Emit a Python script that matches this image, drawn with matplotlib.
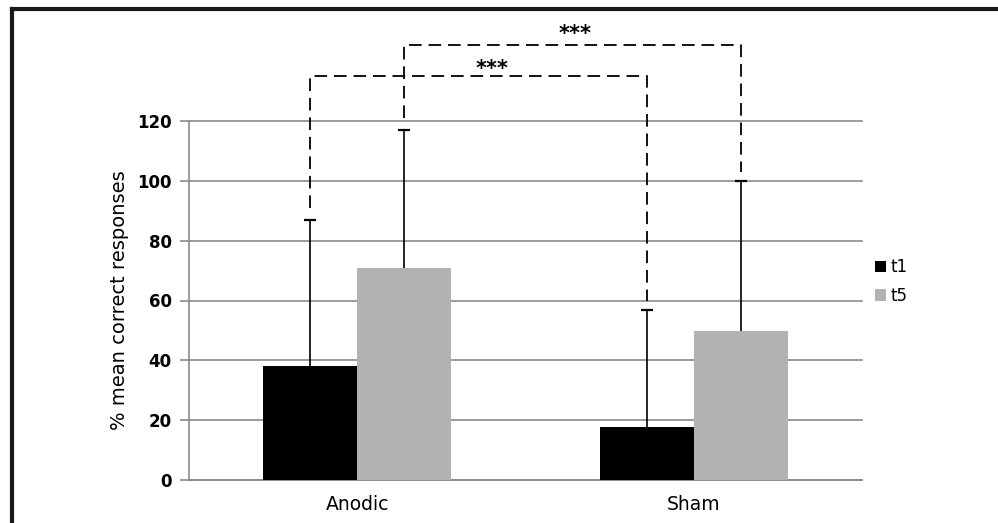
import matplotlib
matplotlib.use("Agg")
import matplotlib.pyplot as plt
from matplotlib.lines import Line2D
from matplotlib.patches import Patch
import numpy as np

categories = ["Anodic", "Sham"]
series_names = ["t1", "t5"]
t1_values = [38, 17.7]
t5_values = [71, 49.7]
t1_err_top = [86.8, 56.8]
t5_err_top = [117, 99.8]
yticks = [0, 20, 40, 60, 80, 100, 120]
sig_labels = ["***", "***"]
bracket_heights = [135.1, 145.5]

colors = ["#000000", "#b2b2b2"]
grid_c = "#8a8a8a"

plt.rcParams['font.family'] = ['DejaVu Sans']

fig = plt.figure(figsize=(9.98, 5.23), dpi=100)
ax = fig.add_axes([189/998, 1-480/523, (862-189)/998, (480-121)/523])

x = np.arange(len(categories))
w = 0.28
offs = [-w/2, w/2]
vals = [t1_values, t5_values]
tops = [t1_err_top, t5_err_top]
for i in range(2):
    xs = x + offs[i]
    ax.bar(xs, vals[i], width=w, color=colors[i], zorder=3, label=series_names[i])
    ax.vlines(xs, vals[i], tops[i], color='black', linewidth=1.2, zorder=4)
    ax.plot(xs, tops[i], linestyle='none', marker='_', markersize=8,
            markeredgewidth=1.6, color='black', zorder=4)

ax.set_xlim(-0.5, 1.5)
ax.set_ylim(0, 120)
ax.set_yticks(yticks)
ax.set_yticklabels([str(v) for v in yticks], fontsize=12, fontweight='bold')
ax.set_xticks(x)
ax.set_xticklabels(categories, fontsize=13.5)
ax.tick_params(axis='x', length=0, pad=11)
ax.tick_params(axis='y', length=6.5, width=1.2, color=grid_c, pad=6)
ax.yaxis.grid(True, color=grid_c, linewidth=1.2, zorder=0)
for gl in ax.get_ygridlines():
    gl.set_clip_on(False)
ax.set_axisbelow(True)
for s in ['top', 'right']:
    ax.spines[s].set_visible(False)
for s in ['left', 'bottom']:
    ax.spines[s].set_color(grid_c)
    ax.spines[s].set_linewidth(1.2)
ax.set_ylabel("% mean correct responses", fontsize=14, labelpad=6)

# significance brackets
dash = (0, (7, 3.8))
pairs = [(t1_err_top, -w/2), (t5_err_top, w/2)]
for k, (et, off) in enumerate(pairs):
    xl = x[0] + off
    xr = x[1] + off
    h = bracket_heights[k]
    ax.plot([xl, xl, xr, xr], [et[0] + 4, h, h, et[1] + 3], color='black',
            linestyle=dash, linewidth=1.3, clip_on=False, zorder=5)
ax.text(0.40, 135.3, sig_labels[0], ha='center', va='baseline', fontsize=15,
        fontweight='bold', clip_on=False)
ax.text(0.647, 147.0, sig_labels[1], ha='center', va='baseline', fontsize=15,
        fontweight='bold', clip_on=False)

handles = [Patch(facecolor=colors[0], label='t1'), Patch(facecolor=colors[1], label='t5')]
fig.legend(handles=handles, loc='upper left', bbox_to_anchor=(860/998, 1-243/523),
           frameon=False, fontsize=12, handlelength=0.65, handleheight=0.65,
           handletextpad=0.3, labelspacing=0.65)

# figure border (top & left)
fig.add_artist(Line2D([12/998, 1], [1-9/523, 1-9/523], color='#1a1a1a', linewidth=3,
                      transform=fig.transFigure))
fig.add_artist(Line2D([12/998, 12/998], [0, 1-9/523], color='#1a1a1a', linewidth=3,
                      transform=fig.transFigure))

fig.savefig("out.png", dpi=100)
